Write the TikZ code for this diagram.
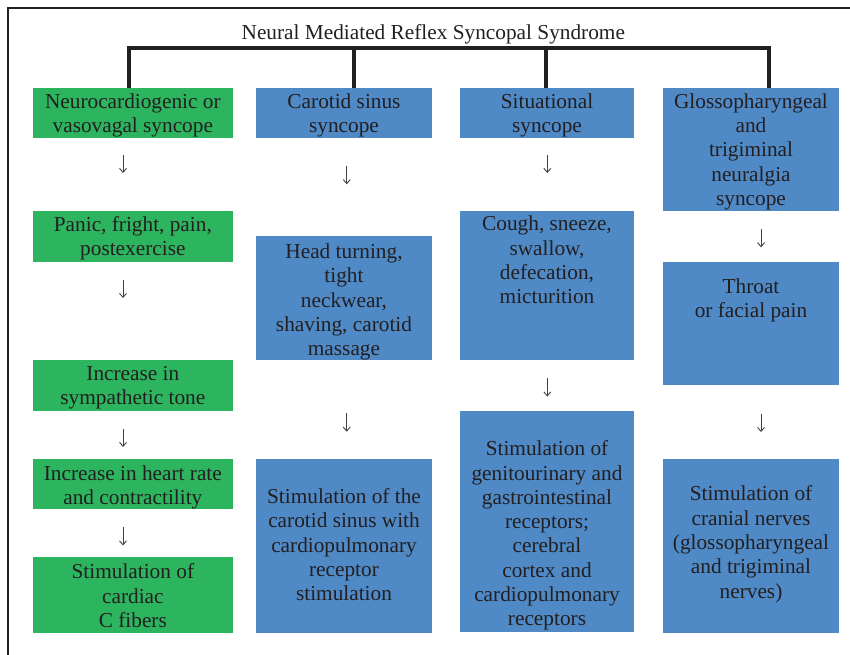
\documentclass[tikz,border=0pt]{standalone}
\usepackage{fontspec}
\setmainfont{Liberation Serif}
\usetikzlibrary{arrows.meta}
\definecolor{boxgreen}{RGB}{45,180,95}
\definecolor{boxblue}{RGB}{79,137,198}
\definecolor{ink}{RGB}{35,31,32}
\begin{document}
\begin{tikzpicture}[x=1pt,y=-1pt,
 greenbox/.style={rectangle, fill=boxgreen, inner sep=0pt, outer sep=0pt},
 bluebox/.style={rectangle, fill=boxblue, inner sep=0pt, outer sep=0pt},
 txt/.style={anchor=north, align=center, inner sep=0pt, text=ink, font=\fontsize{21.3}{24.3}\selectfont},
 arr/.style={draw=ink!85, line width=0.9pt, -{Straight Barb[length=4pt,width=7pt]}},
 brk/.style={draw=ink, line width=4pt, line join=miter},
]
\useasboundingbox (0,0) rectangle (850,654);
% frame
\draw[ink, line width=1.6pt] (8,670) -- (8,8) -- (870,8);

% title
\node[anchor=base, inner sep=0pt, text=ink, font=\fontsize{21.3}{24.3}\selectfont] (title) at (433.3,39.3) {Neural Mediated Reflex Syncopal Syndrome};

% column 1 (green)
\node[greenbox, minimum width=199.7pt, minimum height=50pt]   (g1) at (132.85,113) {};
\node[greenbox, minimum width=199.7pt, minimum height=50.7pt] (g2) at (132.85,236.35) {};
\node[greenbox, minimum width=199.7pt, minimum height=50.7pt] (g3) at (132.85,385.35) {};
\node[greenbox, minimum width=199.7pt, minimum height=49.4pt] (g4) at (132.85,484) {};
\node[greenbox, minimum width=199.7pt, minimum height=75.4pt] (g5) at (132.85,595) {};
\node[txt] (tg1) at (132.85,91) {\strut Neurocardiogenic or\\vasovagal syncope};
\node[txt] (tg2) at (132.85,214) {\strut Panic, fright, pain,\\postexercise};
\node[txt] (tg3) at (132.85,363) {\strut Increase in\\sympathetic tone};
\node[txt] (tg4) at (132.85,463) {\strut Increase in heart rate\\and contractility};
\node[txt] (tg5) at (132.85,561.5) {\strut Stimulation of\\cardiac\\C fibers};

% column 2 (blue)
\node[bluebox, minimum width=176pt, minimum height=50pt]    (c1) at (344,113) {};
\node[bluebox, minimum width=176pt, minimum height=124pt]   (c2) at (344,298) {};
\node[bluebox, minimum width=176pt, minimum height=173.4pt] (c3) at (344,546) {};
\node[txt] (tc1) at (344,91) {\strut Carotid sinus\\syncope};
\node[txt] (tc2) at (344,241.3) {\strut Head turning,\\tight\\neckwear,\\shaving, carotid\\massage};
\node[txt] (tc3) at (344,486.3) {\strut Stimulation of the\\carotid sinus with\\cardiopulmonary\\receptor\\stimulation};

% column 3 (blue)
\node[bluebox, minimum width=174pt, minimum height=50pt]  (s1) at (547,113) {};
\node[bluebox, minimum width=174pt, minimum height=149pt] (s2) at (547,285.5) {};
\node[bluebox, minimum width=174pt, minimum height=221pt] (s3) at (547,521.5) {};
\node[txt] (ts1) at (547,91) {\strut Situational\\syncope};
\node[txt] (ts2) at (547,213.7) {\strut Cough, sneeze,\\swallow,\\defecation,\\micturition};
\node[txt] (ts3) at (547,438.5) {\strut Stimulation of\\genitourinary and\\gastrointestinal\\receptors;\\cerebral\\cortex and\\cardiopulmonary\\receptors};

% column 4 (blue)
\node[bluebox, minimum width=176pt, minimum height=123pt]   (r1) at (751,149.5) {};
\node[bluebox, minimum width=176pt, minimum height=122.7pt] (r2) at (751,323.65) {};
\node[bluebox, minimum width=176pt, minimum height=173.4pt] (r3) at (751,546) {};
\node[txt] (tr1) at (751,91) {\strut Glossopharyngeal\\and\\trigiminal\\neuralgia\\syncope};
\node[txt] (tr2) at (751,276.3) {\strut Throat\\or facial pain};
\node[txt] (tr3) at (751,483.7) {\strut Stimulation of\\cranial nerves\\(glossopharyngeal\\and trigiminal\\nerves)};

% bracket
\coordinate (k1) at (129,47.7);
\coordinate (k2) at (354,47.7);
\coordinate (k3) at (545.7,47.7);
\coordinate (k4) at (769,47.7);
\draw[brk] (k1 |- g1.north) -- (k1) -- (k4) -- (k4 |- r1.north);
\draw[brk] (k2) -- (k2 |- c1.north);
\draw[brk] (k3) -- (k3 |- s1.north);

% arrows
\coordinate (a1s) at (123,155);   \coordinate (a1e) at (123,173);
\coordinate (a2s) at (123,280);   \coordinate (a2e) at (123,298);
\coordinate (a3s) at (123,429);   \coordinate (a3e) at (123,447);
\coordinate (a4s) at (123,527);   \coordinate (a4e) at (123,545.5);
\coordinate (b1s) at (346.7,166); \coordinate (b1e) at (346.7,184.3);
\coordinate (b2s) at (346.7,413); \coordinate (b2e) at (346.7,431.7);
\coordinate (d1s) at (547.3,155); \coordinate (d1e) at (547.3,173);
\coordinate (d2s) at (547.3,378); \coordinate (d2e) at (547.3,396.5);
\coordinate (e1s) at (761,229);   \coordinate (e1e) at (761,247.3);
\coordinate (e2s) at (761,414);   \coordinate (e2e) at (761,432);
\foreach \p in {a1,a2,a3,a4,b1,b2,d1,d2,e1,e2}{
  \draw[arr] (\p s) -- (\p e);
}
\end{tikzpicture}
\end{document}
